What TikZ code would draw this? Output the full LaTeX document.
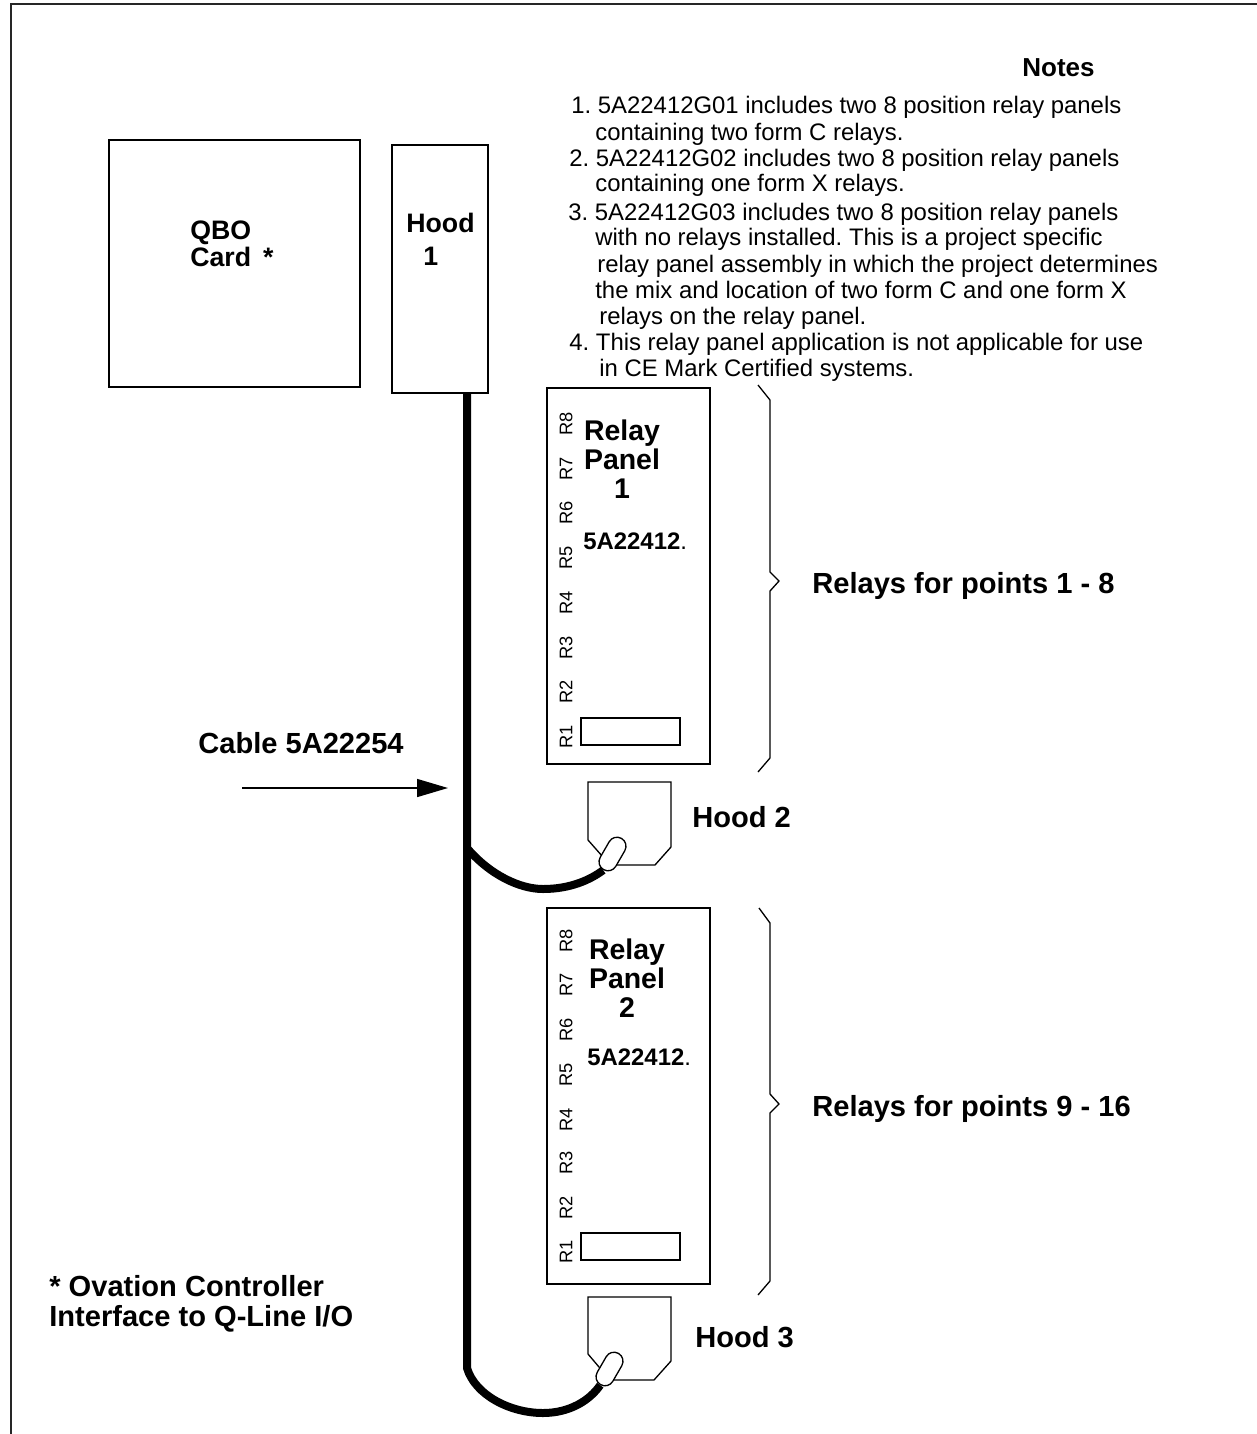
\documentclass[tikz,border=0pt]{standalone}
\usepackage{fontspec}
\setmainfont{Liberation Sans}
\usepackage{tikz}
\usetikzlibrary{arrows.meta,shapes.misc}
\tikzset{
    boxnode/.style={draw,line width=0.95pt,inner sep=0pt},
    slotnode/.style={draw,line width=0.8pt,inner sep=0pt,minimum width=1.98cm,minimum height=0.54cm},
    plugnode/.style={draw,fill=white,line width=0.75pt,rounded rectangle,rotate=60,inner sep=0pt,minimum width=0.72cm,minimum height=0.36cm},
    thinline/.style={line width=0.75pt},
    cablewire/.style={line width=4.55pt},
    notetext/.style={anchor=west,inner sep=0pt,text height=0.34cm,text depth=0.1cm,font=\fontsize{13.6pt}{13.6pt}\selectfont\frenchspacing},
    labeltext/.style={anchor=west,inner sep=0pt,text height=0.4cm,text depth=0.1cm,font=\fontsize{16.55pt}{16.55pt}\selectfont\bfseries},
    cardtext/.style={labeltext,font=\fontsize{15.2pt}{15.2pt}\selectfont\bfseries},
    paneltext/.style={inner sep=0pt,align=center,font=\fontsize{16.2pt}{16.6pt}\selectfont\bfseries},
    parttext/.style={anchor=west,inner sep=0pt,font=\fontsize{13.6pt}{13.6pt}\selectfont},
    pintext/.style={rotate=90,inner sep=0pt,font=\fontsize{10.4pt}{10.4pt}\selectfont}
}
\begin{document}
\begin{tikzpicture}[>=Stealth]
            \useasboundingbox (0,0) rectangle (25.14,-28.68);
            \draw [line width=1.14pt,black!85] (0.22,-28.68) -- (0.22,-0.08) -- (25.14,-0.08);
            \draw (4.69,-5.27) node [boxnode,minimum width=5.02cm,minimum height=4.94cm] (qbocard) {};
            \draw (8.80,-5.38) node [boxnode,minimum width=1.92cm,minimum height=4.96cm] (hoodone) {};
            \draw (12.57,-11.52) node [boxnode,minimum width=3.26cm,minimum height=7.52cm] (panelone) {};
            \draw (12.57,-21.92) node [boxnode,minimum width=3.26cm,minimum height=7.52cm] (paneltwo) {};
            \draw (12.61,-14.63) node [slotnode] (slotone) {};
            \draw (12.61,-24.93) node [slotnode] (slottwo) {};
            \draw (3.80,-4.64) node [cardtext] (qbolabel) {QBO};
            \draw (3.80,-5.18) node [cardtext] (cardlabel) {Card \,*};
            \draw (8.12,-4.50) node [cardtext] (hoodlabel) {Hood};
            \draw (8.46,-5.16) node [cardtext] (hoodnum) {1};
            \draw (20.44,-1.38) node [labeltext,font=\fontsize{14.8pt}{14.8pt}\selectfont\bfseries] (notes) {Notes};
            \draw (11.42,-2.14) node [notetext] (noteone) {1. 5A22412G01 includes two 8 position relay panels};
            \draw (11.90,-2.68) node [notetext] (noteonb) {containing two form C relays.};
            \draw (11.38,-3.20) node [notetext] (notetwo) {2. 5A22412G02 includes two 8 position relay panels};
            \draw (11.90,-3.70) node [notetext] (notetwb) {containing one form X relays.};
            \draw (11.36,-4.28) node [notetext] (notethr) {3. 5A22412G03 includes two 8 position relay panels};
            \draw (11.90,-4.78) node [notetext] (notethb) {with no relays installed. This is a project specific};
            \draw (11.94,-5.32) node [notetext] (notethc) {relay panel assembly in which the project determines};
            \draw (11.90,-5.84) node [notetext] (notethd) {the mix and location of two form C and one form X};
            \draw (11.98,-6.36) node [notetext] (notethe) {relays on the relay panel.};
            \draw (11.38,-6.88) node [notetext] (notefou) {4. This relay panel application is not applicable for use};
            \draw (11.98,-7.40) node [notetext] (notefob) {in CE Mark Certified systems.};
            \draw (12.44,-9.18) node [paneltext] (relayone) {Relay\\Panel\\1};
            \draw (12.54,-19.56) node [paneltext] (relaytwo) {Relay\\Panel\\2};
            \draw (11.66,-10.82) node [parttext] (partone) {\textbf{5A22412}.};
            \draw (11.74,-21.14) node [parttext] (parttwo) {\textbf{5A22412}.};
            \draw (11.32,-8.48) node [pintext] (raeight) {R8};
            \draw (11.32,-9.38) node [pintext] (raseven) {R7};
            \draw (11.32,-10.26) node [pintext] (rasix) {R6};
            \draw (11.32,-11.16) node [pintext] (rafive) {R5};
            \draw (11.32,-12.06) node [pintext] (rafour) {R4};
            \draw (11.32,-12.96) node [pintext] (rathree) {R3};
            \draw (11.32,-13.84) node [pintext] (ratwo) {R2};
            \draw (11.32,-14.74) node [pintext] (raone) {R1};
            \draw (11.32,-18.82) node [pintext] (rbeight) {R8};
            \draw (11.32,-19.70) node [pintext] (rbseven) {R7};
            \draw (11.32,-20.60) node [pintext] (rbsix) {R6};
            \draw (11.32,-21.50) node [pintext] (rbfive) {R5};
            \draw (11.32,-22.40) node [pintext] (rbfour) {R4};
            \draw (11.32,-23.26) node [pintext] (rbthree) {R3};
            \draw (11.32,-24.16) node [pintext] (rbtwo) {R2};
            \draw (11.32,-25.04) node [pintext] (rbone) {R1};
            \draw [thinline] (15.16,-7.70) -- (15.40,-8.00) -- (15.40,-11.44) -- (15.58,-11.62) -- (15.40,-11.82) -- (15.40,-15.16) -- (15.16,-15.44);
            \draw [thinline] (15.18,-18.16) -- (15.40,-18.46) -- (15.40,-21.88) -- (15.58,-22.08) -- (15.40,-22.26) -- (15.40,-25.62) -- (15.16,-25.90);
            \draw (16.24,-11.72) node [labeltext] (pointsone) {Relays for points 1 - 8};
            \draw (16.24,-22.18) node [labeltext] (pointstwo) {Relays for points 9 - 16};
            \draw (3.96,-14.92) node [labeltext] (cablelabel) {Cable 5A22254};
            \draw (13.84,-16.40) node [labeltext] (hoodtwo) {Hood 2};
            \draw (13.90,-26.80) node [labeltext] (hoodthree) {Hood 3};
            \draw (0.98,-25.78) node [labeltext] (starone) {* Ovation Controller};
            \draw (0.98,-26.38) node [labeltext] (startwo) {Interface to Q-Line I/O};
            \draw [thinline] (12.20,-17.30) -- (13.10,-17.30) -- (13.42,-16.94) -- (13.42,-15.64) -- (11.76,-15.64) -- (11.76,-16.80) -- cycle;
            \draw [thinline] (12.20,-27.60) -- (13.08,-27.60) -- (13.42,-27.22) -- (13.42,-25.94) -- (11.76,-25.94) -- (11.76,-27.08) -- cycle;
            \draw (12.25,-17.08) node [plugnode] (plugtwo) {};
            \draw (12.19,-27.38) node [plugnode] (plugthree) {};
            \coordinate (cabletop) at (9.34,-7.86);
            \coordinate (branchtwo) at (9.34,-16.96);
            \coordinate (branchthree) at (9.34,-27.36);
            \draw [cablewire] (cabletop) -- (branchthree) .. controls (9.50,-27.90) and (10.20,-28.26) .. (10.86,-28.26) .. controls (11.40,-28.26) and (11.80,-28.00) .. (plugthree.west);
            \draw [cablewire] (branchtwo) .. controls (9.80,-17.50) and (10.40,-17.78) .. (10.86,-17.78) .. controls (11.40,-17.78) and (11.80,-17.60) .. (plugtwo.west);
            \coordinate (arrowstart) at (4.84,-15.76);
            \coordinate (arrowend) at (8.96,-15.76);
            \draw [->,line width=0.85pt,>={Stealth[length=0.62cm,width=0.36cm,inset=0pt]}] (arrowstart) -- (arrowend);
        \end{tikzpicture}
\end{document}
